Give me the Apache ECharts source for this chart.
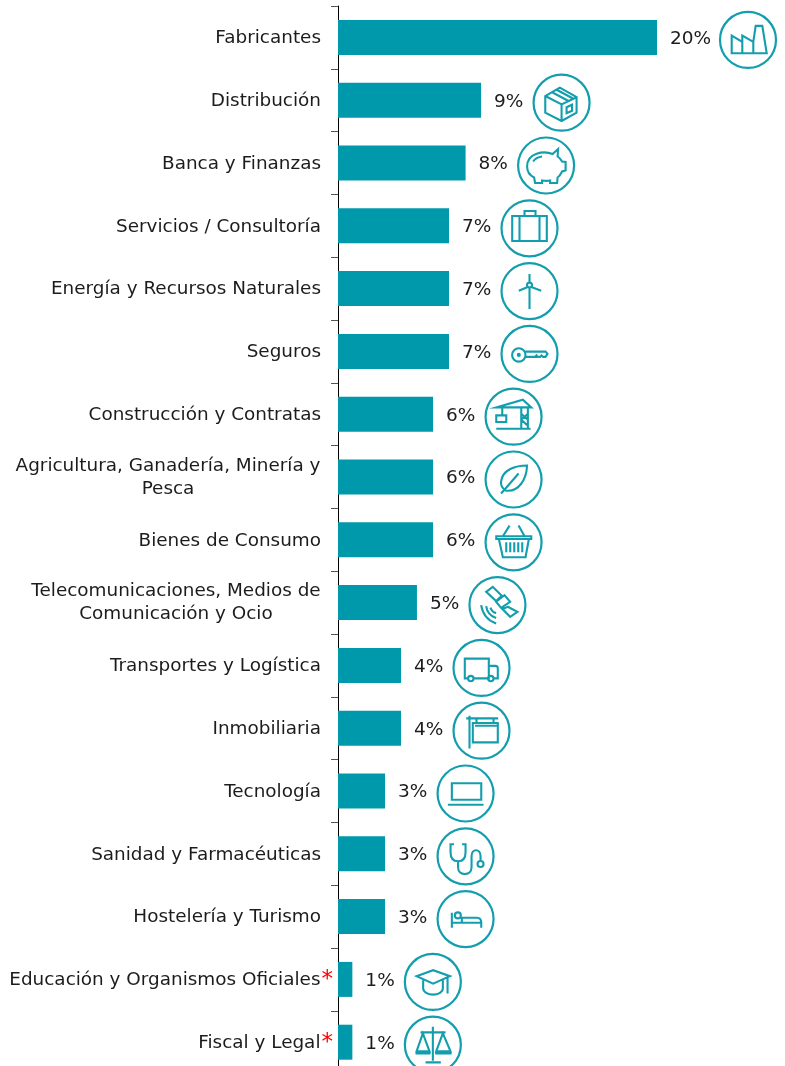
<!DOCTYPE html>
<html><head><meta charset="utf-8">
<style>html,body{margin:0;padding:0;background:#fff;overflow:hidden;height:1066px}#c{width:785px;height:1080px}</style>
<script src="https://cdn.jsdelivr.net/npm/echarts@6/dist/echarts.min.js"></script>
</head><body><div id="c"></div>
<script>
const categories = ['Fabricantes','Distribución','Banca y Finanzas','Servicios / Consultoría','Energía y Recursos Naturales','Seguros','Construcción y Contratas','Agricultura, Ganadería, Minería y\nPesca','Bienes de Consumo','Telecomunicaciones, Medios de\nComunicación y Ocio','Transportes y Logística','Inmobiliaria','Tecnología','Sanidad y Farmacéuticas','Hostelería y Turismo','Educación y Organismos Oficiales','Fiscal y Legal'];
const values = [20,8.97,8,6.96,6.96,6.96,5.96,5.96,5.96,4.95,3.95,3.95,2.95,2.95,2.95,0.9,0.9];
const asterisked = ['Educación y Organismos Oficiales','Fiscal y Legal'];
const icons = [
 'M11.7 41.3V23.7L22.3 30V23.7L33.3 30L35.7 14H42.3L46.7 41.3ZM22.3 30V41.3M33.3 30V41.3',
 'M26.3 13L11.7 21.3V38L28 46.3L43 38V22.5ZM11.7 21.3L28 29.7L43 22.5M28 29.7V46.3M18.5 17.5L34.5 26M23 15L39 23.5M33 32.5L38.5 30V36L33 38.5Z',
 'M40 11.5L34.5 16.5C26 13 9 15 9 29C9 34 12 38 16 40L17 45.5H24V43C27 43.5 30 43.5 32 43V45.5H39L39.5 40C41 39 43 36 44 34L47.5 33V24.5L44 24C43 22 41 20 39.5 19ZM15 24C17 21 20 19.5 24 19',
 'M10.7 15.7H45.3V40.7H10.7ZM18 15.7V40.7M38 15.7V40.7M23 15.7V10.7H34V15.7',
 'M28 11V19.5M25.6 24.2L17.3 27.7M30.4 24.2L39.7 27.7M28 25V46M30.5 22A2.5 2.5 0 1 1 25.5 22A2.5 2.5 0 1 1 30.5 22Z',
 'M24 29A6.7 6.7 0 1 1 10.6 29A6.7 6.7 0 1 1 24 29ZM23 25.7H44L46 28L44 31H41.5L40 29.5L38.5 31H36L35 29.5L33.5 31H23.5M18.3 29A1 1 0 1 1 16.3 29A1 1 0 1 1 18.3 29Z',
 'M10.7 18.7H45.7L37.3 11L10.7 18.7ZM35.7 18.7V40M42.3 18.7V40M10.7 40H45M35.7 25L42.3 31M35.7 31L42.3 37M42.3 25L35.7 31M16.7 18.7V26.7M10.7 26.7H20.7V33.3H10.7Z',
 'M41.5 14C30 14 17 18 15.5 30C15 34 17 37 20 39C33 41 41 28 41.5 14ZM15.5 42L20 37L33 22',
 'M10.7 22H45.7V24.7H10.7ZM13.3 24.7L17.3 43H40L43.3 24.7M17.3 22L24 11.3M39 22L33 11.3M20.7 28V38M24.7 28V38M28.7 28V38M32.7 28V38M36.7 28V38',
 'M16.7 14.7L23.3 9.7L32.3 18.7L26.7 24ZM26.7 24.7L35 18L40.7 24.7L31.7 30.7ZM38.3 29.7L48 34.7L40.7 39.7L33 32ZM11.7 28Q14 42 26.7 46.3M16.7 29Q18 38 26.7 41M21 30.5Q22.5 35 26.7 36',
 'M14.5 38.5H11.3V18.7H35.3V38.5H20M35.3 26H42Q44.3 26 44.3 28.5V38.5H40M34 38.5H35.3M20 38.7A2.7 2.7 0 1 1 14.6 38.7A2.7 2.7 0 1 1 20 38.7ZM40 38.7A2.7 2.7 0 1 1 34.6 38.7A2.7 2.7 0 1 1 40 38.7Z',
 'M16 13V45.7M12.7 15.7H44.7M23 15.7V20.3M40 15.7V20.3M19.3 20.3H44.3V39.7H19.3ZM21.5 23H44.3',
 'M14.3 17.7H43.7V34.3H14.3ZM10.3 39.3H46',
 'M16.5 16H13V24C13 30 16 33 20.5 33C25 33 28 30 28 24V16H24.5M20.5 33V39C20.5 48 34 48 34 39V28C34 20 43 20 43 28V32.7M46 35.7A3 3 0 1 1 40 35.7A3 3 0 1 1 46 35.7Z',
 'M14.3 21.7V36.7M14.3 31.7H43.7V36.7M43.7 31.7C43.7 28.5 42 26.7 39.3 26.7H24.3V31.7M23.3 24.3A3 3 0 1 1 17.3 24.3A3 3 0 1 1 23.3 24.3Z',
 'M11.7 22.3L28.3 16.3L45 22.3L28.3 29.7ZM18.3 26.3V34.7C18.3 38 23 40.7 28.3 40.7C33.5 40.7 38 38 38 34.7V26.3M42.7 23V39.7',
 'M28 10V44M20.7 45.7H36M15.7 15.7H40.7M18 16.7L11.7 34.7H24.7ZM38 16.7L31.3 34.7H45.7ZM11.7 34.7V36.7H24.7V34.7M31.3 34.7V36.7H45.7V34.7'
];
const BAR = '#0099ab', ICON = '#139eae', TXT = '#1c1c1c';
const chart = echarts.init(document.getElementById('c'), null, {renderer:'canvas'});
const labelFont = {fontFamily:'DejaVu Sans', fontSize:18.4, color:TXT, lineHeight:23};
chart.setOption({
  animation:false,
  backgroundColor:'#fff',
  grid:{left:338, top:6, width:446.6, height:1067.6},
  xAxis:{type:'value', min:0, max:28, show:false},
  yAxis:{type:'category', inverse:true, data:categories,
    axisLine:{show:true, lineStyle:{color:'#000', width:1}},
    axisTick:{show:true, length:7, lineStyle:{color:'#555', width:1}},
    axisLabel:{margin:5, align:'right', interval:0,
      formatter:function(v){
        if(asterisked.indexOf(v)>=0) return '{t|'+v+'}{s|*}';
        const lines=v.split('\n');
        const tok = lines[0].length>30 ? 'w' : 'm';
        return lines.length>1 ? lines.map(l=>'{'+tok+'|'+l+'}').join('\n') : '{n|'+v+'}';
      },
      rich:{
        n:Object.assign({},labelFont,{padding:[2,12,0,0]}),
        w:Object.assign({},labelFont,{width:306,align:'center',padding:[1,12,0,0]}),
        m:Object.assign({},labelFont,{width:290,align:'center',padding:[1,12,0,0]}),
        t:Object.assign({},labelFont,{padding:[2,1,0,0]}),
        s:{fontFamily:'DejaVu Sans',fontSize:23,color:'#ff0000',lineHeight:23,padding:[2,0,0,0]}
      }}
  },
  series:[
    {type:'bar', data:values, barWidth:35, itemStyle:{color:BAR}, silent:true,
     label:{show:true, position:'right', distance:13, offset:[0,1.5], fontFamily:'DejaVu Sans', fontSize:18.5, color:TXT,
       formatter:p=>Math.round(p.value)+'%'}},
    {type:'custom', clip:false, silent:true, coordinateSystem:'cartesian2d', encode:{x:0,y:1},
     data:values.map((v,i)=>[v,i]),
     renderItem:function(params,api){
       const p=api.coord([api.value(0),api.value(1)]);
       const gap = api.value(0)>=10 ? 91 : 80.5;
       return {type:'group', x:p[0]+gap-28, y:p[1]+2.5-28, children:[
         {type:'circle', shape:{cx:28,cy:28,r:28}, style:{fill:'none',stroke:ICON,lineWidth:2.2}},
         {type:'path', shape:{pathData:'M0 0M56 56'+icons[params.dataIndex], x:0,y:0,width:56,height:56,layout:'cover'},
          style:{fill:'none',stroke:ICON,lineWidth:2.1,lineJoin:'miter'}}
       ]};
     }}
  ]
});
</script></body></html>
